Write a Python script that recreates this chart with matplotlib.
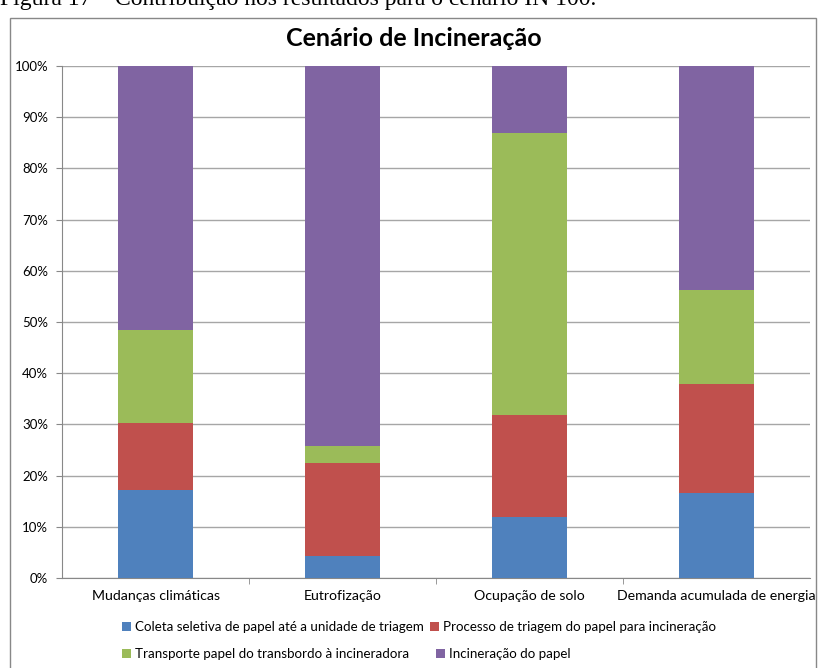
import matplotlib.pyplot as plt
from matplotlib.patches import Rectangle
from matplotlib.ticker import PercentFormatter

categorias = ['Mudanças climáticas', 'Eutrofização', 'Ocupação de solo',
              'Demanda acumulada de energia']
series = ['Coleta seletiva de papel até a unidade de triagem',
          'Processo de triagem do papel para incineração',
          'Transporte papel do transbordo à incineradora',
          'Incineração do papel']
coleta = [17.2, 4.2, 11.9, 16.6]
triagem = [13.0, 18.3, 19.9, 21.2]
transporte = [18.2, 3.2, 55.1, 18.5]
incineracao = [51.6, 74.3, 13.1, 43.7]
cores = ['#4F81BD', '#C0504D', '#9BBB59', '#8064A2']

plt.rcParams['font.family'] = ['Lato', 'DejaVu Sans']

fig = plt.figure(figsize=(8.18, 6.68), dpi=100)
ax = fig.add_axes([62 / 818, 90 / 668, 748 / 818, 512 / 668])

# moldura do grafico e legenda cortada da figura
fig.patches.append(Rectangle((10 / 818, -0.1), 806 / 818, 1.1 - 18 / 668,
                             transform=fig.transFigure, fill=False,
                             edgecolor='#888888', linewidth=1))
fig.text(0.0, 1.0, 'Figura 17 – Contribuição nos resultados para o cenário IN 100.',
         family=['Liberation Serif', 'DejaVu Serif'], fontsize=17,
         va='center', ha='left')

x = list(range(len(categorias)))
base = [0, 0, 0, 0]
barras = []
for valores, cor, nome in zip([coleta, triagem, transporte, incineracao], cores, series):
    b = ax.bar(x, valores, bottom=base, width=0.4, color=cor, label=nome, zorder=3)
    barras.append(b)
    base = [a + v for a, v in zip(base, valores)]

ax.set_xlim(-0.5, 3.5)
ax.set_ylim(0, 100)
ax.set_yticks(range(0, 101, 10))
ax.yaxis.set_major_formatter(PercentFormatter(decimals=0))
ax.grid(axis='y', color='#a6a6a6', linewidth=1, zorder=0)
ax.set_xticks(x)
ax.set_xticklabels(categorias, fontsize=10.2)
ax.set_xticks([0.5, 1.5, 2.5], minor=True)
ax.tick_params(axis='x', which='major', length=0, pad=9)
ax.tick_params(axis='x', which='minor', length=4, color='#888888')
ax.tick_params(axis='y', labelsize=9.5, length=4, color='#888888', pad=6)
for lado in ['top', 'right']:
    ax.spines[lado].set_visible(False)
for lado in ['left', 'bottom']:
    ax.spines[lado].set_color('#888888')

fig.text(414 / 818, 1 - 38 / 668, 'Cenário de Incineração', fontsize=18,
         fontweight='bold', ha='center', va='center')

# legenda em duas linhas, como no Excel
estilo = dict(frameon=False, loc='center left', fontsize=9.6, handlelength=0.7,
              handleheight=0.7, handletextpad=0.3, borderpad=0, borderaxespad=0)
fig.legend(barras[:2], series[:2], ncol=2, columnspacing=0.4,
           bbox_to_anchor=(122 / 818, 1 - 627 / 668), **estilo)
fig.legend(barras[2:], series[2:], ncol=2, columnspacing=2.0,
           bbox_to_anchor=(122 / 818, 1 - 654 / 668), **estilo)

fig.savefig('out.png', dpi=100)
